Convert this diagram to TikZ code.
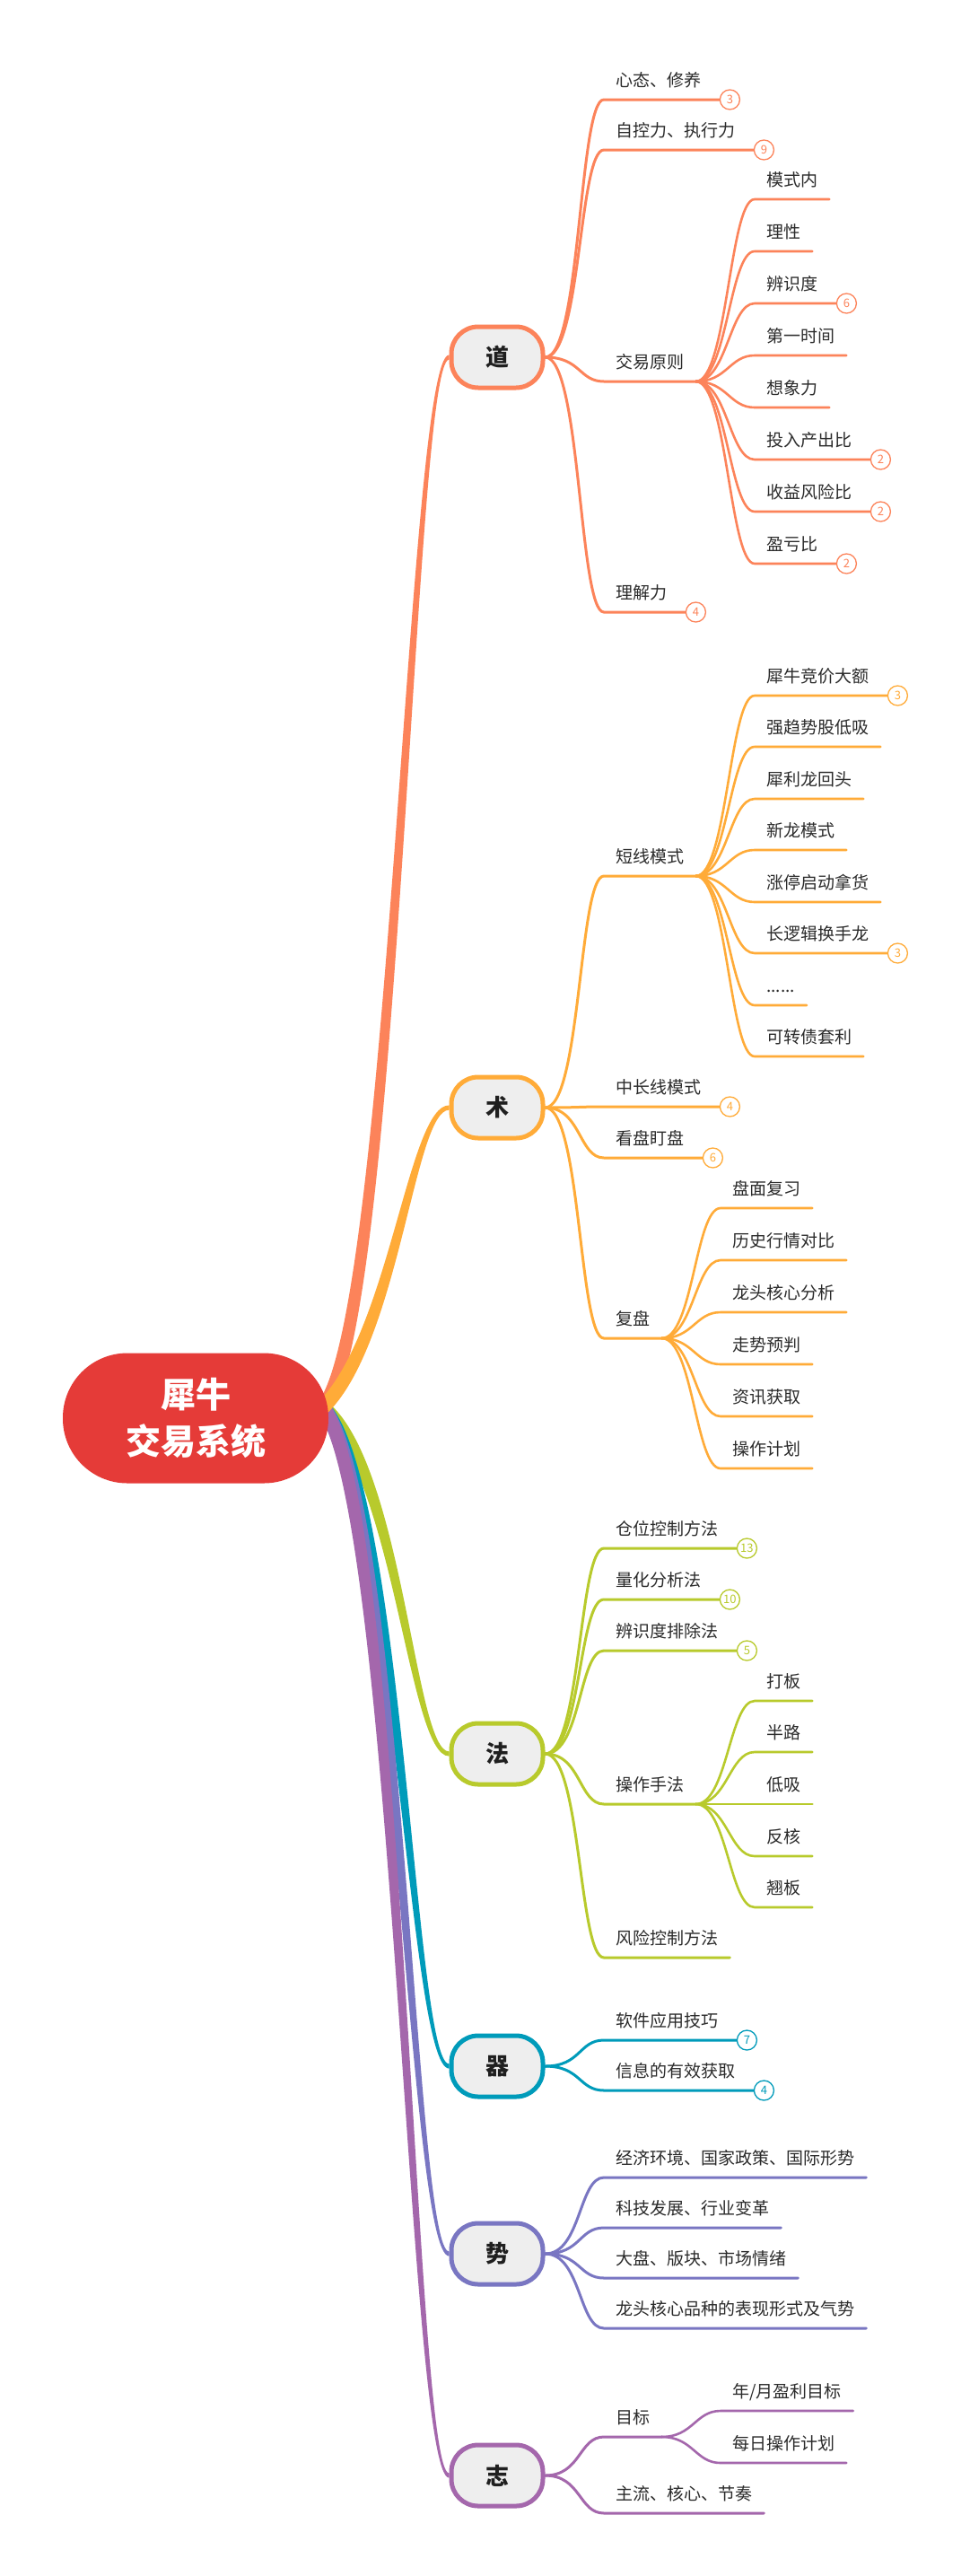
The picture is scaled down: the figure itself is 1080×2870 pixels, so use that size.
\documentclass[tikz,border=0pt]{standalone}
\usepackage{fontspec}
\setmainfont{Noto Sans CJK SC}
\usetikzlibrary{calc}
\definecolor{cdao}{HTML}{FC835A}
\definecolor{cshu}{HTML}{FFAB38}
\definecolor{cfa}{HTML}{B8CA2C}
\definecolor{cqi}{HTML}{009BBA}
\definecolor{cshi}{HTML}{7976C2}
\definecolor{czhi}{HTML}{A467AC}
\definecolor{croot}{HTML}{E53B38}
\definecolor{cfill}{HTML}{EEEEEE}
\definecolor{ctxt}{HTML}{2B2B2B}
\pgfdeclarelayer{bg}
\pgfsetlayers{bg,main}
% connectors
\newcommand\conA[3]{\draw[#1,wA] (#2.east) .. controls +(40,0) and +(-28,0) .. (#3.south west) -- (#3.south east);}
\newcommand\conAn[4]{\draw[#1,wA] (#2.east) .. controls +(40,0) and +(-28,0) .. (#3.south west) -- (#4.west);}
\newcommand\conB[3]{\draw[#1,wB] (#2.south east) .. controls +(35,0) and +(-28,0) .. (#3.south west) -- (#3.south east);}
\newcommand\conBn[4]{\draw[#1,wB] (#2.south east) .. controls +(35,0) and +(-28,0) .. (#3.south west) -- (#4.west);}
% tapered trunk: #1 colour, #2 target, #3 first handle, #4 half-width normal at hub, #5 half-width offset at second handle
\newcommand\mytrunk[5]{%
  \fill[#1] ($(hub)+(#4)$) .. controls ($(hub)+(#3)+(#4)$) and ($(#2.west)+(-42,0)+(#5)$) .. ($(#2.west)+(0,2.6)$)
    -- ($(#2.west)+(0,-2.6)$) .. controls ($(#2.west)+(-42,0)-(#5)$) and ($(hub)+(#3)-(#4)$) .. ($(hub)-(#4)$) -- cycle;}
\begin{document}
\begin{tikzpicture}[x=1pt,y=-1pt,
  rootnode/.style={fill=croot, rounded corners=72pt, minimum width=296pt, minimum height=145pt, text=white, align=center, font=\fontsize{39}{52}\selectfont\bfseries, inner sep=0pt},
  topic/.style={draw=#1, fill=cfill, line width=5pt, rounded corners=30pt, minimum width=102pt, minimum height=68pt, font=\fontsize{26}{26}\selectfont\bfseries, text=black!88, inner sep=0pt},
  lab/.style={anchor=south west, inner xsep=13pt, inner ysep=0pt, text height=15pt, text depth=14pt, font=\fontsize{19}{19}\selectfont, text=ctxt},
  badge/.style={circle, draw=#1, fill=white, text=#1, line width=1.3pt, minimum size=22pt, inner sep=0pt, font=\fontsize{13}{13}\selectfont},
  wA/.style={line width=3pt, line cap=round},
  wB/.style={line width=2.6pt, line cap=round},
]
\useasboundingbox (0,0) rectangle (1080,2870);

% root and main topics
\node[rootnode] (root) at (218,1580) {犀牛\\交易系统};
\coordinate (hub) at (360,1568);
\node[topic=cdao] (dao) at (554,398) {道};
\node[topic=cshu] (shu) at (554,1234) {术};
\node[topic=cfa] (fa) at (554,1954) {法};
\node[topic=cqi] (qi) at (554,2302) {器};
\node[topic=cshi] (shi) at (554,2511) {势};
\node[topic=czhi] (zhi) at (554,2758) {志};

% 道
\node[lab] (d1) at (673,111) {心态、修养};
\node[badge=cdao] (d1n) at ($(d1.south east)+(19,0)$) {3};
\node[lab] (d2) at (673,167) {自控力、执行力};
\node[badge=cdao] (d2n) at ($(d2.south east)+(19,0)$) {9};
\node[lab] (d3) at (673,425) {交易原则};
\node[lab] (d4) at (673,682) {理解力};
\node[badge=cdao] (d4n) at ($(d4.south east)+(19,0)$) {4};
\node[lab] (d3a) at (841,222) {模式内};
\node[lab] (d3b) at (841,280) {理性};
\node[lab] (d3c) at (841,338) {辨识度};
\node[badge=cdao] (d3cn) at ($(d3c.south east)+(19,0)$) {6};
\node[lab] (d3d) at (841,396) {第一时间};
\node[lab] (d3e) at (841,454) {想象力};
\node[lab] (d3f) at (841,512) {投入产出比};
\node[badge=cdao] (d3fn) at ($(d3f.south east)+(19,0)$) {2};
\node[lab] (d3g) at (841,570) {收益风险比};
\node[badge=cdao] (d3gn) at ($(d3g.south east)+(19,0)$) {2};
\node[lab] (d3h) at (841,628) {盈亏比};
\node[badge=cdao] (d3hn) at ($(d3h.south east)+(19,0)$) {2};

% 术
\node[lab] (s1) at (673,976) {短线模式};
\node[lab] (s2) at (673,1233) {中长线模式};
\node[badge=cshu] (s2n) at ($(s2.south east)+(19,0)$) {4};
\node[lab] (s3) at (673,1290) {看盘盯盘};
\node[badge=cshu] (s3n) at ($(s3.south east)+(19,0)$) {6};
\node[lab] (s4) at (673,1491) {复盘};
\node[lab] (s1a) at (841,775) {犀牛竞价大额};
\node[badge=cshu] (s1an) at ($(s1a.south east)+(19,0)$) {3};
\node[lab] (s1b) at (841,832) {强趋势股低吸};
\node[lab] (s1c) at (841,890) {犀利龙回头};
\node[lab] (s1d) at (841,947) {新龙模式};
\node[lab] (s1e) at (841,1005) {涨停启动拿货};
\node[lab] (s1f) at (841,1062) {长逻辑换手龙};
\node[badge=cshu] (s1fn) at ($(s1f.south east)+(19,0)$) {3};
\node[lab] (s1g) at (841,1120) {......};
\node[lab] (s1h) at (841,1177) {可转债套利};
\node[lab] (s4a) at (803,1346) {盘面复习};
\node[lab] (s4b) at (803,1404) {历史行情对比};
\node[lab] (s4c) at (803,1462) {龙头核心分析};
\node[lab] (s4d) at (803,1520) {走势预判};
\node[lab] (s4e) at (803,1578) {资讯获取};
\node[lab] (s4f) at (803,1636) {操作计划};

% 法
\node[lab] (f1) at (673,1725) {仓位控制方法};
\node[badge=cfa] (f1n) at ($(f1.south east)+(19,0)$) {13};
\node[lab] (f2) at (673,1782) {量化分析法};
\node[badge=cfa] (f2n) at ($(f2.south east)+(19,0)$) {10};
\node[lab] (f3) at (673,1839) {辨识度排除法};
\node[badge=cfa] (f3n) at ($(f3.south east)+(19,0)$) {5};
\node[lab] (f4) at (673,2010) {操作手法};
\node[lab] (f5) at (673,2181) {风险控制方法};
\node[lab] (f4a) at (841,1895) {打板};
\node[lab] (f4b) at (841,1952) {半路};
\node[lab] (f4c) at (841,2010) {低吸};
\node[lab] (f4d) at (841,2068) {反核};
\node[lab] (f4e) at (841,2125) {翘板};

% 器
\node[lab] (q1) at (673,2273) {软件应用技巧};
\node[badge=cqi] (q1n) at ($(q1.south east)+(19,0)$) {7};
\node[lab] (q2) at (673,2329) {信息的有效获取};
\node[badge=cqi] (q2n) at ($(q2.south east)+(19,0)$) {4};

% 势
\node[lab] (h1) at (673,2426) {经济环境、国家政策、国际形势};
\node[lab] (h2) at (673,2482) {科技发展、行业变革};
\node[lab] (h3) at (673,2538) {大盘、版块、市场情绪};
\node[lab] (h4) at (673,2594) {龙头核心品种的表现形式及气势};

% 志
\node[lab] (z1) at (673,2715) {目标};
\node[lab] (z2) at (673,2800) {主流、核心、节奏};
\node[lab] (z1a) at (803,2686) {年/月盈利目标};
\node[lab] (z1b) at (803,2744) {每日操作计划};

\begin{pgfonlayer}{bg}
\fill[white] (0,0) rectangle (1080,2870);
% trunks from root
\mytrunk{cfa}{fa}{85,70}{-5.0,6.2}{-3.6,2.6}
\mytrunk{cqi}{qi}{85,90}{-5.6,5.4}{-3.6,2.6}
\mytrunk{cshi}{shi}{85,100}{-6.0,5.1}{-3.6,2.6}
\mytrunk{czhi}{zhi}{85,113}{-6.3,4.7}{-3.6,2.6}
\mytrunk{cdao}{dao}{80,-100}{6.2,5.0}{3.6,2.6}
\mytrunk{cshu}{shu}{80,-80}{5.6,5.6}{3.6,2.6}
% 道
\conAn{cdao}{dao}{d1}{d1n}
\conAn{cdao}{dao}{d2}{d2n}
\conA{cdao}{dao}{d3}
\conAn{cdao}{dao}{d4}{d4n}
\conB{cdao}{d3}{d3a}
\conB{cdao}{d3}{d3b}
\conBn{cdao}{d3}{d3c}{d3cn}
\conB{cdao}{d3}{d3d}
\conB{cdao}{d3}{d3e}
\conBn{cdao}{d3}{d3f}{d3fn}
\conBn{cdao}{d3}{d3g}{d3gn}
\conBn{cdao}{d3}{d3h}{d3hn}
% 术
\conA{cshu}{shu}{s1}
\conAn{cshu}{shu}{s2}{s2n}
\conAn{cshu}{shu}{s3}{s3n}
\conA{cshu}{shu}{s4}
\conBn{cshu}{s1}{s1a}{s1an}
\conB{cshu}{s1}{s1b}
\conB{cshu}{s1}{s1c}
\conB{cshu}{s1}{s1d}
\conB{cshu}{s1}{s1e}
\conBn{cshu}{s1}{s1f}{s1fn}
\conB{cshu}{s1}{s1g}
\conB{cshu}{s1}{s1h}
\conB{cshu}{s4}{s4a}
\conB{cshu}{s4}{s4b}
\conB{cshu}{s4}{s4c}
\conB{cshu}{s4}{s4d}
\conB{cshu}{s4}{s4e}
\conB{cshu}{s4}{s4f}
% 法
\conAn{cfa}{fa}{f1}{f1n}
\conAn{cfa}{fa}{f2}{f2n}
\conAn{cfa}{fa}{f3}{f3n}
\conA{cfa}{fa}{f4}
\conA{cfa}{fa}{f5}
\conB{cfa}{f4}{f4a}
\conB{cfa}{f4}{f4b}
\conB{cfa}{f4}{f4c}
\conB{cfa}{f4}{f4d}
\conB{cfa}{f4}{f4e}
% 器
\conAn{cqi}{qi}{q1}{q1n}
\conAn{cqi}{qi}{q2}{q2n}
% 势
\conA{cshi}{shi}{h1}
\conA{cshi}{shi}{h2}
\conA{cshi}{shi}{h3}
\conA{cshi}{shi}{h4}
% 志
\conA{czhi}{zhi}{z1}
\conA{czhi}{zhi}{z2}
\conB{czhi}{z1}{z1a}
\conB{czhi}{z1}{z1b}
\end{pgfonlayer}
\end{tikzpicture}
\end{document}
